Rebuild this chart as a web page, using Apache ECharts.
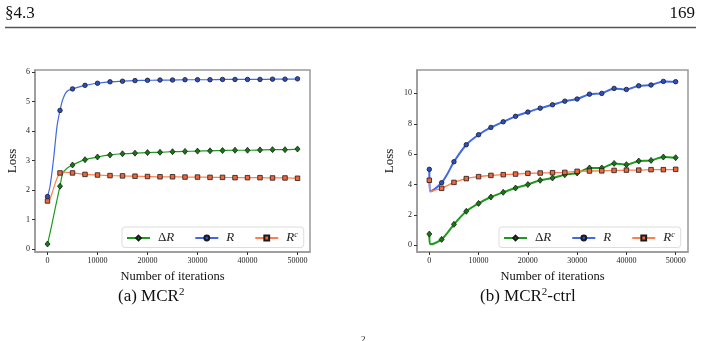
<!DOCTYPE html>
<html>
<head>
<meta charset="utf-8">
<script src="https://cdn.jsdelivr.net/npm/echarts@6/dist/echarts.min.js"></script>
<style>
  html, body { margin: 0; padding: 0; background: #fff; }
  #chart { width: 701px; height: 341px; }
</style>
</head>
<body>
<div id="chart"></div>
<script>
  // marker positions (every 2500 iterations)
  const markIters = [0, 2500, 5000, 7500, 10000, 12500, 15000, 17500, 20000, 22500, 25000,
    27500, 30000, 32500, 35000, 37500, 40000, 42500, 45000, 47500, 50000]

  // (a) MCR2 - values at markers
  const aDeltaR = [0.17, 2.13, 2.85, 3.03, 3.12, 3.19, 3.23, 3.25, 3.27, 3.28, 3.30,
    3.31, 3.32, 3.33, 3.34, 3.35, 3.35, 3.36, 3.37, 3.37, 3.39]
  const aR = [1.78, 4.70, 5.43, 5.55, 5.62, 5.67, 5.69, 5.71, 5.72, 5.73, 5.73,
    5.74, 5.74, 5.74, 5.75, 5.75, 5.75, 5.75, 5.76, 5.76, 5.77]
  const aRc = [1.63, 2.58, 2.58, 2.53, 2.51, 2.49, 2.48, 2.47, 2.46, 2.45, 2.45,
    2.44, 2.44, 2.43, 2.43, 2.42, 2.42, 2.42, 2.41, 2.41, 2.40]
  // (a) extra line points read between the first markers
  const aFineIters = [500, 1200, 1900, 3050, 3900]
  const aFineDeltaR = [0.54, 1.10, 1.67, 2.57, 2.74]
  const aFineR = [2.12, 3.03, 4.16, 5.07, 5.35]
  const aFineRc = [1.70, 2.05, 2.40, 2.61, 2.60]

  // (b) MCR2-ctrl - values at markers
  const bDeltaR = [0.74, 0.39, 1.38, 2.24, 2.76, 3.18, 3.49, 3.77, 4.00, 4.28, 4.43,
    4.65, 4.76, 5.09, 5.09, 5.39, 5.31, 5.55, 5.59, 5.81, 5.77]
  const bR = [5.00, 4.12, 5.50, 6.62, 7.28, 7.76, 8.13, 8.49, 8.77, 9.03, 9.25,
    9.49, 9.63, 9.95, 10.00, 10.33, 10.26, 10.50, 10.55, 10.79, 10.77]
  const bRc = [4.28, 3.75, 4.14, 4.39, 4.52, 4.60, 4.65, 4.69, 4.74, 4.76, 4.78,
    4.80, 4.87, 4.89, 4.90, 4.93, 4.95, 4.95, 4.98, 4.98, 5.00]
  const bFineIters = [150, 1000, 3750]
  const bFineDeltaR = [0.07, 0.12, 0.85]
  const bFineR = [3.55, 3.68, 4.75]
  const bFineRc = [3.55, 3.62, 3.95]

  const xTicks = [0, 10000, 20000, 30000, 40000, 50000]
  const yTicksA = [0, 1, 2, 3, 4, 5, 6]
  const yTicksB = [0, 2, 4, 6, 8, 10]

  const FONT = 'Liberation Serif'
  const GREEN = '#1f9a1f'
  const BLUE = '#4169e1'
  const ORANGE = '#ff7f50'

  const chart = echarts.init(document.getElementById('chart'), null, { renderer: 'canvas' })

  function buildData (marks, fineX, fineY) {
    const pts = markIters.map((x, i) => ({ value: [x, marks[i]] }))
    fineX.forEach((x, i) => pts.push({ value: [x, fineY[i]], symbol: 'none' }))
    pts.sort((p, q) => p.value[0] - q.value[0])
    return pts
  }

  function lineSeries (name, idx, data, color, symbol, size, fill, width) {
    return {
      name: name,
      type: 'line',
      xAxisIndex: idx,
      yAxisIndex: idx,
      data: data,
      symbol: symbol,
      symbolSize: size,
      showAllSymbol: true,
      smooth: 0.25,
      animation: false,
      lineStyle: { color: color, width: width },
      itemStyle: { color: fill, borderColor: '#1a1a1a', borderWidth: 0.8 },
      emphasis: { disabled: true }
    }
  }

  function axisX (idx, min, max) {
    return {
      type: 'value',
      gridIndex: idx,
      min: min,
      max: max,
      name: 'Number of iterations',
      nameLocation: 'middle',
      nameGap: 18,
      nameTextStyle: { fontFamily: FONT, fontSize: 12.5, color: '#111' },
      axisLine: { show: true, onZero: false, lineStyle: { color: '#999', width: 1.5 } },
      axisTick: { show: true, length: 3, lineStyle: { color: '#333' }, customValues: xTicks },
      axisLabel: {
        fontFamily: FONT, fontSize: 8, color: '#222', margin: 5,
        customValues: xTicks,
        formatter: v => String(v)
      },
      splitLine: { show: false }
    }
  }

  function axisY (idx, min, max, ticks) {
    return {
      type: 'value',
      gridIndex: idx,
      min: min,
      max: max,
      name: 'Loss',
      nameLocation: 'middle',
      nameGap: idx === 0 ? 16 : 21,
      nameRotate: 90,
      nameTextStyle: { fontFamily: FONT, fontSize: 13, color: '#111' },
      axisLine: { show: true, onZero: false, lineStyle: { color: '#999', width: 1.5 } },
      axisTick: { show: true, length: 3, lineStyle: { color: '#333' }, customValues: ticks },
      axisLabel: {
        fontFamily: FONT, fontSize: 8, color: '#222', margin: 5,
        customValues: ticks,
        formatter: v => String(v)
      },
      splitLine: { show: false }
    }
  }

  function legendAt (left) {
    return {
      left: left,
      top: 227,
      orient: 'horizontal',
      itemWidth: 23,
      itemHeight: 6,
      itemGap: 20,
      padding: [4, 6, 3, 4],
      backgroundColor: '#fff',
      borderColor: '#ddd',
      borderWidth: 1,
      borderRadius: 3,
      data: ['dR', 'R', 'Rc'],
      formatter: function (n) {
        if (n === 'dR') return '{n|Δ}{i|R}'
        if (n === 'R') return '{i|R}'
        return '{i|R}{s|c}'
      },
      textStyle: {
        fontFamily: FONT,
        fontSize: 13,
        color: '#222',
        padding: [0, 0, 0, 3],
        rich: {
          n: { fontFamily: FONT, fontSize: 13, color: '#222' },
          i: { fontFamily: FONT, fontSize: 13, fontStyle: 'italic', color: '#222' },
          s: { fontFamily: FONT, fontSize: 8, fontStyle: 'italic', color: '#222', verticalAlign: 'top', padding: [0, 0, 6, 0] }
        }
      }
    }
  }

  function caption (x, label, rest) {
    return {
      type: 'text',
      left: x,
      top: 287,
      style: {
        text: '{t|' + label + ' MCR}{s|2}' + (rest ? '{t|' + rest + '}' : ''),
        rich: {
          t: { fontFamily: FONT, fontSize: 17, fill: '#111' },
          s: { fontFamily: FONT, fontSize: 11, fill: '#111', verticalAlign: 'top', padding: [0, 0, 8, 0] }
        }
      }
    }
  }

  chart.setOption({
    backgroundColor: '#fff',
    grid: [
      { left: 35, right: 391, top: 70, bottom: 89, show: true, borderColor: '#999', borderWidth: 1.5, backgroundColor: 'transparent' },
      { left: 417, right: 13, top: 70, bottom: 89, show: true, borderColor: '#999', borderWidth: 1.5, backgroundColor: 'transparent' }
    ],
    xAxis: [axisX(0, -2500, 52500), axisX(1, -2500, 52500)],
    yAxis: [axisY(0, -0.1, 6.07, yTicksA), axisY(1, -0.44, 11.54, yTicksB)],
    legend: [legendAt(122), legendAt(499)],
    series: [
      lineSeries('dR', 0, buildData(aDeltaR, aFineIters, aFineDeltaR), GREEN, 'diamond', [5, 6], '#137a13', 1.2),
      lineSeries('R', 0, buildData(aR, aFineIters, aFineR), BLUE, 'circle', 4.5, '#2d4fc4', 1.2),
      lineSeries('Rc', 0, buildData(aRc, aFineIters, aFineRc), ORANGE, 'rect', 4.5, '#f2653a', 1.2),
      lineSeries('dR', 1, buildData(bDeltaR, bFineIters, bFineDeltaR), GREEN, 'diamond', [5, 6], '#137a13', 2),
      lineSeries('R', 1, buildData(bR, bFineIters, bFineR), BLUE, 'circle', 4.5, '#2d4fc4', 2),
      lineSeries('Rc', 1, buildData(bRc, bFineIters, bFineRc), ORANGE, 'rect', 4.5, '#f2653a', 1.4)
    ],
    graphic: [
      { type: 'text', left: 5, top: 5, style: { text: '§4.3', fontFamily: FONT, fontSize: 17, fill: '#111' } },
      { type: 'text', right: 6, top: 5, style: { text: '169', fontFamily: FONT, fontSize: 17, fill: '#111' } },
      { type: 'line', shape: { x1: 5, y1: 27.5, x2: 696, y2: 27.5 }, style: { stroke: '#555', lineWidth: 1.3 } },
      caption(118, '(a)', ''),
      caption(480, '(b)', '-ctrl'),
      { type: 'text', left: 361, top: 335, style: { text: '2', fontFamily: FONT, fontSize: 9, fill: '#111' } }
    ]
  })
</script>
</body>
</html>
